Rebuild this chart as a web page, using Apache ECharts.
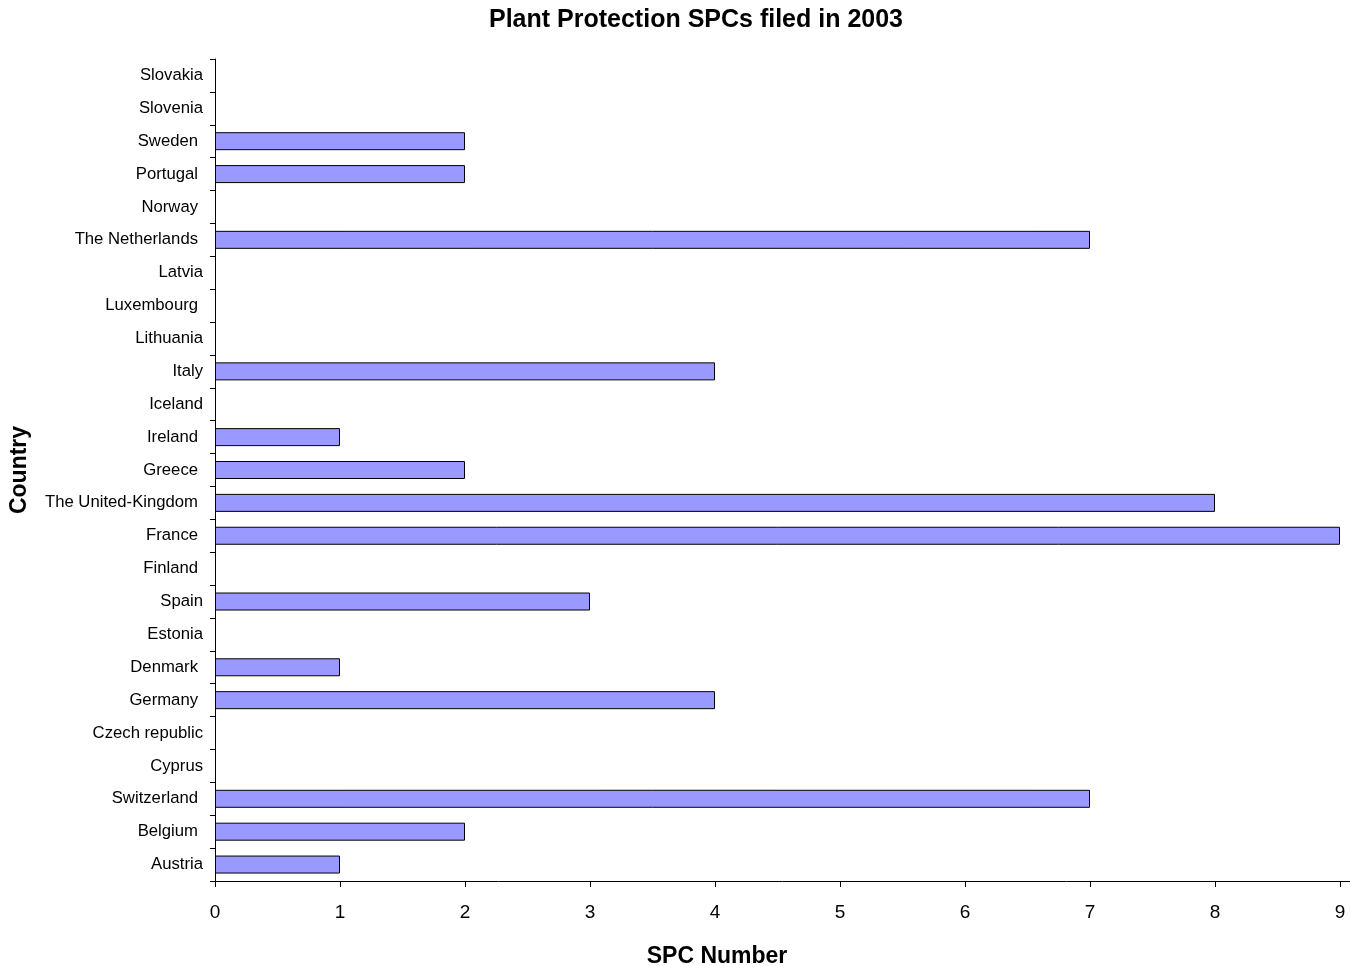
<!DOCTYPE html>
<html>
<head>
<meta charset="utf-8">
<script src="https://cdn.jsdelivr.net/npm/echarts@6/dist/echarts.min.js"></script>
<style>
html,body{margin:0;padding:0;background:#fff;}
#chart{width:1350px;height:966px;}
</style>
</head>
<body>
<div id="chart"></div>
<script>
// Categories listed bottom to top
const countries = ["Austria","Belgium","Switzerland","Cyprus","Czech republic","Germany","Denmark","Estonia","Spain","Finland","France","The United-Kingdom","Greece","Ireland","Iceland","Italy","Lithuania","Luxembourg","Latvia","The Netherlands","Norway","Portugal","Sweden","Slovenia","Slovakia"];
const spcCounts = [1,2,7,0,0,4,1,0,3,0,9,8,2,1,0,4,0,0,0,7,0,2,2,0,0];
const xTicks = [0,1,2,3,4,5,6,7,8,9];
// labels drawn slightly closer to the axis in the original
const closerLabels = ["Slovakia","Slovenia","Latvia","Lithuania","Italy","Iceland","Spain","Estonia","Czech republic","Cyprus","Austria"];

const FONT = "Liberation Sans, Arial, sans-serif";
const barData = spcCounts.map(function(v){
  return v === 0 ? {value:v, itemStyle:{borderWidth:0}} : v;
});
const chart = echarts.init(document.getElementById('chart'), null, {renderer:'canvas'});
chart.setOption({
  animation:false,
  backgroundColor:'#fff',
  title:[
    {text:'Plant Protection SPCs filed in 2003', left:691, top:3, textAlign:'center',
     textStyle:{fontFamily:FONT, fontSize:25, fontWeight:'bold', color:'#000'}},
    {text:'SPC Number', left:712, top:940, textAlign:'center',
     textStyle:{fontFamily:FONT, fontSize:23, fontWeight:'bold', color:'#000'}}
  ],
  grid:{left:215, right:0, top:59, bottom:85, containLabel:false},
  xAxis:{
    type:'value', min:0, max:9.08, interval:1,
    axisLine:{show:true, lineStyle:{color:'#000', width:1}},
    axisTick:{show:true, length:6, lineStyle:{color:'#000'}, customValues:xTicks},
    axisLabel:{fontFamily:FONT, fontSize:19, color:'#000', margin:22, customValues:xTicks},
    splitLine:{show:false}
  },
  yAxis:{
    type:'category', data:countries,
    name:'Country', nameLocation:'middle', nameGap:184, nameRotate:90,
    nameTextStyle:{fontFamily:FONT, fontSize:23, fontWeight:'bold', color:'#000'},
    axisLine:{show:true, lineStyle:{color:'#000', width:1}},
    axisTick:{show:true, length:5, alignWithLabel:false, lineStyle:{color:'#000'}},
    axisLabel:{fontFamily:FONT, fontSize:16.7, color:'#000', margin:12,
      formatter:function(v){ return closerLabels.indexOf(v)>=0 ? '{a|'+v+'}' : '{b|'+v+'}'; },
      rich:{
        a:{fontFamily:FONT, fontSize:16.7, color:'#000'},
        b:{fontFamily:FONT, fontSize:16.7, color:'#000', padding:[0,5,0,0]}
      }
    },
    splitLine:{show:false}
  },
  series:[{
    type:'bar', data:barData, barWidth:18,
    itemStyle:{color:'#9999FF', borderColor:'#000', borderWidth:1},
    silent:true
  }]
});
</script>
</body>
</html>
